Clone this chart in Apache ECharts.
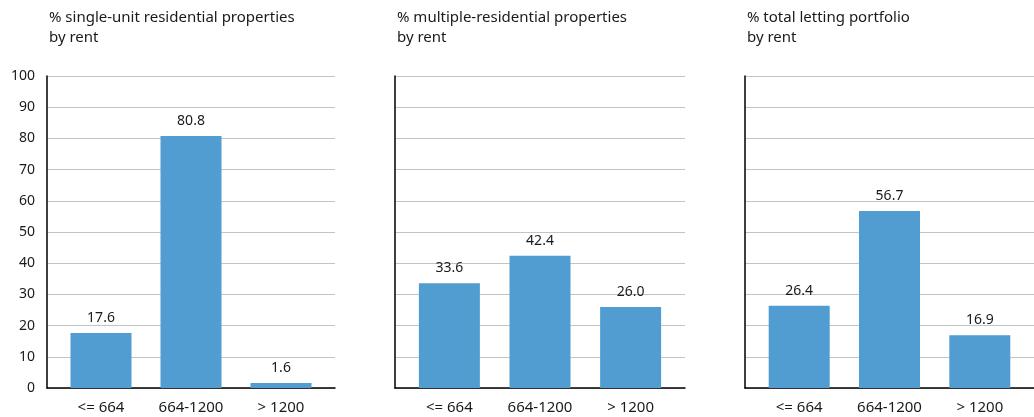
<!DOCTYPE html>
<html>
<head>
<meta charset="utf-8">
<script src="https://cdn.jsdelivr.net/npm/echarts@6/dist/echarts.min.js"></script>
<style>
html,body{margin:0;padding:0;background:#fff;}
#chart{width:1034px;height:417px;}
</style>
</head>
<body>
<div id="chart"></div>
<script>
const categories = ['<= 664', '664-1200', '> 1200'];
const titles = [
  '% single-unit residential properties\nby rent',
  '% multiple-residential properties\nby rent',
  '% total letting portfolio\nby rent'
];
const singleUnit = [17.6, 80.8, 1.6];
const multiResidential = [33.6, 42.4, 26.0];
const totalPortfolio = [26.4, 56.7, 16.9];
const yTicks = [0, 10, 20, 30, 40, 50, 60, 70, 80, 90, 100];

const panels = [singleUnit, multiResidential, totalPortfolio];
const lefts = [47, 395, 745];
const widths = [288, 290, 289];
const FONT = 'Noto Sans';
const TXT = '#1a1a1a';

const chart = echarts.init(document.getElementById('chart'));
const option = {
  backgroundColor: '#fff',
  animation: false,
  textStyle: { fontFamily: FONT },
  title: titles.map((t, i) => ({
    text: t,
    left: lefts[i] - 3,
    top: 3,
    textStyle: { fontFamily: FONT, fontSize: 15, fontWeight: 'normal', color: TXT, lineHeight: 20 }
  })),
  grid: panels.map((p, i) => ({ left: lefts[i], width: widths[i], top: 76, height: 312 })),
  xAxis: panels.map((p, i) => ({
    type: 'value',
    gridIndex: i,
    min: -0.6,
    max: 2.6,
    axisLine: { show: true, lineStyle: { color: '#000', width: 1.5 } },
    axisTick: { show: false },
    splitLine: { show: false },
    axisLabel: {
      customValues: [0, 1, 2],
      formatter: v => categories[Math.round(v)],
      fontFamily: FONT, fontSize: 15, color: TXT, margin: 12
    }
  })),
  yAxis: panels.map((p, i) => ({
    type: 'value',
    gridIndex: i,
    min: 0,
    max: 100,
    interval: 10,
    axisLine: { show: true, onZero: false, lineStyle: { color: '#000', width: 1.5 } },
    axisTick: { show: false },
    splitLine: { show: true, lineStyle: { color: '#c4c4c4', width: 1 } },
    axisLabel: {
      show: i === 0,
      formatter: v => yTicks.includes(v) ? String(v) : '',
      fontFamily: FONT, fontSize: 14, color: TXT, margin: 12
    }
  })),
  series: panels.map((p, i) => ({
    type: 'bar',
    xAxisIndex: i,
    yAxisIndex: i,
    barWidth: 61,
    data: p.map((v, k) => [k, v]),
    itemStyle: { color: '#519dd1' },
    label: {
      show: true,
      position: 'top',
      distance: 8,
      formatter: d => d.value[1].toFixed(1),
      fontFamily: FONT, fontSize: 14, color: TXT
    }
  }))
};
chart.setOption(option);
</script>
</body>
</html>
